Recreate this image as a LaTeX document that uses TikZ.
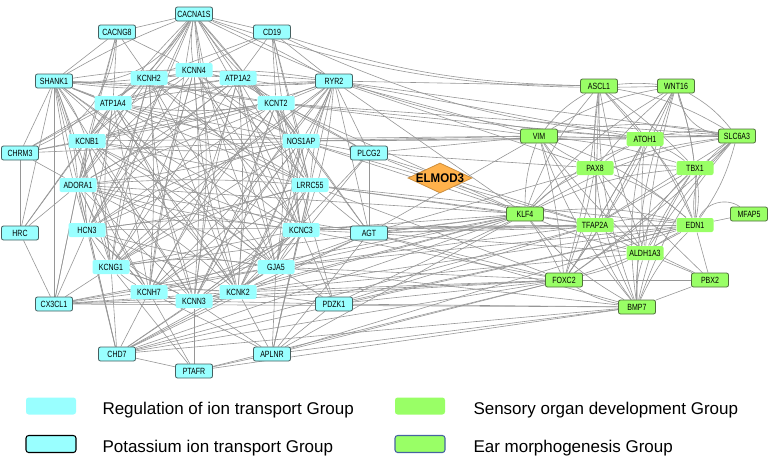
\documentclass[tikz,border=0pt]{standalone}
\usepackage{fontspec}
\setmainfont{Liberation Sans}
\usetikzlibrary{shapes.geometric,backgrounds}

\definecolor{ritcyan}{RGB}{153,255,255}
\definecolor{sodgreen}{RGB}{153,255,102}
\definecolor{elmodorange}{RGB}{255,178,76}
\definecolor{linkgray}{RGB}{150,150,150}
\definecolor{pitrim}{RGB}{70,95,95}
\definecolor{earrim}{RGB}{80,110,60}
\definecolor{earkey}{RGB}{70,100,160}

\newcommand{\gn}[1]{\scalebox{0.78}[1]{#1}}
\newcommand{\corelist}{CACNA1S,SHANK1,KCNH2,KCNN4,ATP1A2,ATP1A4,KCNB1,RYR2,KCNT2,NOS1AP,LRRC55,ADORA1,HCN3,KCNG1,KCNH7,KCNN3,KCNK2,KCNC3,GJA5}
\newcommand{\sodlist}{ASCL1,WNT16,VIM,ATOH1,SLC6A3,PAX8,TBX1,KLF4,TFAP2A,EDN1,ALDH1A3,FOXC2,BMP7}

\tikzset{every picture/.style={line width=0.75pt}}
\tikzset{
  gene/.style={rectangle, rounded corners=1.5pt, minimum width=27.75pt, minimum height=10.5pt, inner sep=0pt, font=\fontsize{6.75}{7}\selectfont},
  rit/.style={gene, fill=ritcyan},
  pit/.style={rit, draw=pitrim, line width=0.6pt},
  sod/.style={gene, fill=sodgreen},
  ear/.style={sod, draw=earrim, line width=0.6pt},
  link/.style={draw=linkgray, line width=0.45pt},
  keybox/.style={rectangle, rounded corners=2pt, minimum width=37.5pt, minimum height=12.75pt, inner sep=0pt},
  keytext/.style={anchor=west, inner sep=0pt, font=\fontsize{12.75}{14}\selectfont}
}

\begin{document}
\begin{tikzpicture}[x=0.75pt,y=0.75pt,yscale=-1,xscale=1]
\useasboundingbox (0,0) rectangle (771,458);

%Regulation of ion transport / potassium ion transport
\node[pit] (CACNA1S) at (194,14) {\gn{CACNA1S}};
\node[pit] (CACNG8) at (117,32) {\gn{CACNG8}};
\node[pit] (CD19) at (272,32) {\gn{CD19}};
\node[pit] (SHANK1) at (54,81) {\gn{SHANK1}};
\node[rit] (KCNH2) at (149,78) {\gn{KCNH2}};
\node[rit] (KCNN4) at (194,70) {\gn{KCNN4}};
\node[rit] (ATP1A2) at (238,78) {\gn{ATP1A2}};
\node[pit] (RYR2) at (334,81) {\gn{RYR2}};
\node[rit] (ATP1A4) at (113,103) {\gn{ATP1A4}};
\node[rit] (KCNT2) at (276,103) {\gn{KCNT2}};
\node[rit] (KCNB1) at (87,141) {\gn{KCNB1}};
\node[rit] (NOS1AP) at (301,141) {\gn{NOS1AP}};
\node[pit] (CHRM3) at (20,153) {\gn{CHRM3}};
\node[pit] (PLCG2) at (369,153) {\gn{PLCG2}};
\node[rit] (ADORA1) at (78,185) {\gn{ADORA1}};
\node[rit] (LRRC55) at (310,185) {\gn{LRRC55}};
\node[pit] (HRC) at (20,233) {\gn{HRC}};
\node[rit] (HCN3) at (87,230) {\gn{HCN3}};
\node[rit] (KCNC3) at (301,230) {\gn{KCNC3}};
\node[pit] (AGT) at (369,233) {\gn{AGT}};
\node[rit] (KCNG1) at (111,267) {\gn{KCNG1}};
\node[rit] (GJA5) at (276,267) {\gn{GJA5}};
\node[rit] (KCNH7) at (149,292) {\gn{KCNH7}};
\node[rit] (KCNN3) at (194,301) {\gn{KCNN3}};
\node[rit] (KCNK2) at (238,292) {\gn{KCNK2}};
\node[pit] (CX3CL1) at (54,304) {\gn{CX3CL1}};
\node[pit] (PDZK1) at (334,304) {\gn{PDZK1}};
\node[pit] (CHD7) at (117,354) {\gn{CHD7}};
\node[pit] (APLNR) at (272,354) {\gn{APLNR}};
\node[pit] (PTAFR) at (194,371) {\gn{PTAFR}};

%Sensory organ development / ear morphogenesis
\node[ear] (ASCL1) at (599,86) {\gn{ASCL1}};
\node[ear] (WNT16) at (676,86) {\gn{WNT16}};
\node[ear] (VIM) at (539,136) {\gn{VIM}};
\node[sod] (ATOH1) at (645,139) {\gn{ATOH1}};
\node[ear] (SLC6A3) at (737,136) {\gn{SLC6A3}};
\node[sod] (PAX8) at (595,168) {\gn{PAX8}};
\node[sod] (TBX1) at (695,168) {\gn{TBX1}};
\node[ear] (KLF4) at (525,214) {\gn{KLF4}};
\node[ear] (MFAP5) at (749,214) {\gn{MFAP5}};
\node[sod] (TFAP2A) at (595,225) {\gn{TFAP2A}};
\node[sod] (EDN1) at (695,225) {\gn{EDN1}};
\node[sod] (ALDH1A3) at (645,253) {\gn{ALDH1A3}};
\node[ear] (FOXC2) at (564,280) {\gn{FOXC2}};
\node[ear] (PBX2) at (710,280) {\gn{PBX2}};
\node[ear] (BMP7) at (637,307) {\gn{BMP7}};

%Diamond
\node[diamond, minimum width=48pt, minimum height=22.5pt, inner sep=0pt, fill=elmodorange, draw=elmodorange!80!black, line width=0.6pt,
  label={[font=\bfseries\fontsize{9.4}{10}\selectfont]center:\scalebox{0.92}[1]{ELMOD3}}] (ELMOD3) at (440,178) {};

\begin{scope}[on background layer]
%Straight Lines: dense core
\foreach \a [count=\i] in \corelist {
  \foreach \b [count=\j] in \corelist {
    \ifnum\j>\i
      \pgfmathsetmacro\bnd{int(mod(\i*7+\j*3,5))*4-8}
      \draw[link] (\a) to[bend left=\bnd] (\b);
    \fi
  }
}
%Straight Lines: green cluster
\foreach \a [count=\i] in \sodlist {
  \foreach \b [count=\j] in \sodlist {
    \ifnum\j>\i
      \pgfmathsetmacro\bnd{int(mod(\i*5+\j*3,5))*5-10}
      \draw[link] (\a) to[bend left=\bnd] (\b);
    \fi
  }
}
%Straight Lines: outer ring
\foreach \s/\tl in {CACNG8/{CACNA1S,SHANK1,KCNH2,KCNN4,ATP1A4,KCNB1,ADORA1},
    CD19/{CACNA1S,ATP1A2,KCNT2,RYR2,NOS1AP,KCNN4,KCNH2,LRRC55,KCNC3},
    CHRM3/{SHANK1,KCNB1,ADORA1,KCNH2,ATP1A4,HRC,NOS1AP,KCNT2},
    HRC/{ADORA1,KCNB1,SHANK1,ATP1A4,CX3CL1},
    CX3CL1/{ADORA1,HCN3,KCNG1,KCNH7,KCNN3,KCNK2,GJA5,SHANK1,KCNB1},
    CHD7/{KCNG1,KCNH7,KCNN3,KCNK2,GJA5,KCNC3,AGT,HCN3,ADORA1,SHANK1},
    PTAFR/{KCNH7,KCNN3,APLNR,KCNG1,CHD7},
    APLNR/{GJA5,KCNK2,KCNC3,KCNN3,KCNH7,AGT,RYR2,LRRC55,PDZK1},
    PDZK1/{GJA5,KCNK2,KCNN3,KCNC3,KCNT2},
    AGT/{KCNC3,GJA5,KCNK2,RYR2,NOS1AP,LRRC55,PLCG2,KCNT2,ADORA1},
    PLCG2/{RYR2,NOS1AP,KCNT2,GJA5,KCNK2,ATP1A2}}{
  \foreach \t in \tl {\draw[link] (\s) -- (\t);}
}
%Straight Lines: across
\foreach \s/\tl in {RYR2/{ASCL1,VIM,SLC6A3,ATOH1,KLF4,PAX8},
    KCNT2/{VIM,SLC6A3,KLF4,ATOH1},
    NOS1AP/{VIM,ATOH1,SLC6A3,KLF4,TFAP2A},
    KCNB1/{VIM},
    PLCG2/{VIM,KLF4,PAX8,TFAP2A},
    ADORA1/{KLF4},
    LRRC55/{KLF4,TFAP2A,FOXC2,EDN1},
    KCNC3/{KLF4,TFAP2A,EDN1,FOXC2},
    AGT/{VIM,KLF4,PAX8,TFAP2A,EDN1,FOXC2,BMP7,ALDH1A3},
    GJA5/{KLF4,TFAP2A,EDN1,FOXC2,BMP7},
    KCNK2/{KLF4,FOXC2,ALDH1A3,EDN1},
    KCNN3/{KLF4,FOXC2},
    PDZK1/{KLF4,FOXC2,BMP7,EDN1,TFAP2A},
    APLNR/{KLF4,FOXC2,BMP7,EDN1},
    CHD7/{KLF4,TFAP2A,FOXC2,BMP7,EDN1},
    CX3CL1/{KLF4,FOXC2,BMP7},
    PTAFR/{BMP7,FOXC2},
    KCNG1/{KLF4},
    HCN3/{TFAP2A},
    PBX2/{ALDH1A3,TFAP2A,EDN1,BMP7,PAX8,FOXC2}}{
  \foreach \t in \tl {\draw[link] (\s) -- (\t);}
}
%Curve Lines
\draw[link] (CACNA1S) to[bend left=14] (SLC6A3);
\draw[link] (CACNA1S) to[bend left=10] (WNT16);
\draw[link] (CD19) to[bend left=8] (ASCL1);
\draw[link] (CD19) to[bend left=12] (SLC6A3);
\draw[link] (CACNA1S) to[bend right=30] (SHANK1);
\draw[link] (CACNG8) to[bend right=30] (CHRM3);
\draw[link] (MFAP5) -- (EDN1);
\draw[link] (MFAP5) to[bend left=50] (EDN1);
\draw[link] (WNT16) to[bend left=35] (SLC6A3);
\draw[link] (SLC6A3) to[bend left=30] (EDN1);
\draw[link] (TBX1) to[bend left=25] (BMP7);
\end{scope}

%Legend
\node[keybox, fill=ritcyan] (keyrit) at (51,406) {};
\node[keytext] (txtrit) at (102,410) {Regulation of ion transport Group};
\node[keybox, fill=ritcyan, draw=black, line width=0.8pt] (keypit) at (51,444) {};
\node[keytext] (txtpit) at (102,448) {Potassium ion transport Group};
\node[keybox, fill=sodgreen] (keysod) at (420,406) {};
\node[keytext] (txtsod) at (473,410) {Sensory organ development Group};
\node[keybox, fill=sodgreen, draw=earkey, line width=0.8pt] (keyear) at (420,444) {};
\node[keytext] (txtear) at (473,448) {Ear morphogenesis Group};

\end{tikzpicture}
\end{document}
